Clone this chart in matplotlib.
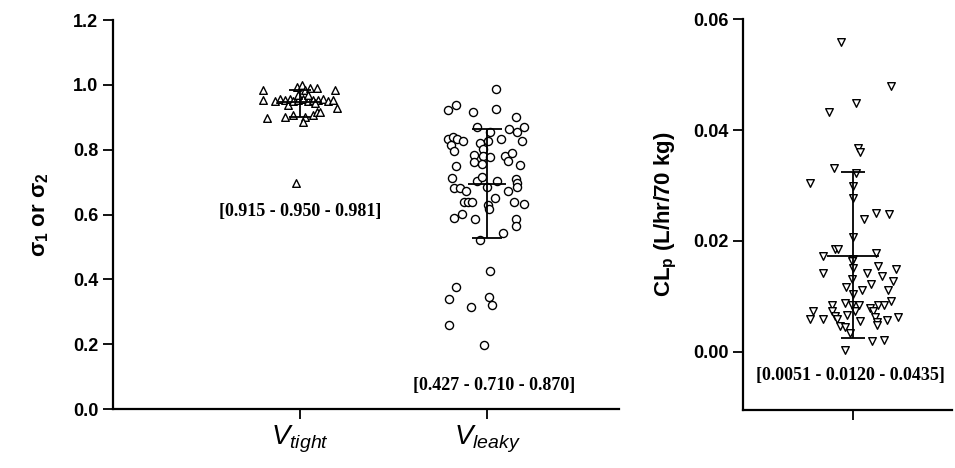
import matplotlib
matplotlib.use("Agg")
import matplotlib.pyplot as plt
import numpy as np

plt.rcParams['font.family'] = ['Liberation Sans', 'DejaVu Sans']
plt.rcParams['mathtext.fontset'] = 'custom'
plt.rcParams['mathtext.rm'] = 'Liberation Sans:bold'
plt.rcParams['mathtext.it'] = 'Liberation Sans:italic'
plt.rcParams['mathtext.bf'] = 'Liberation Sans:bold'

# ---------------- data ----------------
categories = [r'$V_{tight}$', r'$V_{leaky}$']

tight_vals = [0.985, 0.954, 0.897, 0.950, 0.958, 0.952, 0.938, 0.956, 0.949, 0.995,
              1.000, 0.985, 0.990, 0.990, 0.985, 0.953, 0.957, 0.950, 0.955, 0.952,
              0.958, 0.951, 0.954, 0.902, 0.907, 0.902, 0.887, 0.907, 0.918, 0.918,
              0.928, 0.969, 0.969, 0.944, 0.697]
tight_jit = [-0.196, -0.196, -0.178, -0.134, -0.107, -0.080, -0.062, -0.053, -0.036, -0.018,
             0.009, 0.027, 0.053, 0.089, 0.187, -0.009, 0.018, 0.045, 0.071, 0.098,
             0.125, 0.152, 0.178, -0.080, -0.036, 0.027, 0.018, 0.071, 0.089, 0.107,
             0.196, -0.009, 0.045, 0.080, -0.021]

leaky_vals = [0.988, 0.923, 0.939, 0.917, 0.927, 0.900, 0.871, 0.863, 0.855, 0.871,
              0.828, 0.833, 0.833, 0.840, 0.833, 0.826, 0.815, 0.796, 0.820, 0.828,
              0.854, 0.802, 0.784, 0.781, 0.777, 0.762, 0.756, 0.781, 0.766, 0.791,
              0.753, 0.751, 0.712, 0.683, 0.681, 0.674, 0.705, 0.717, 0.684, 0.705,
              0.674, 0.709, 0.697, 0.684, 0.638, 0.638, 0.638, 0.650, 0.630, 0.616,
              0.638, 0.633, 0.590, 0.602, 0.587, 0.587, 0.564, 0.522, 0.542, 0.426,
              0.377, 0.340, 0.316, 0.347, 0.320, 0.260, 0.199]
leaky_jit = [0.046, -0.207, -0.166, -0.077, 0.046, 0.153, -0.055, 0.119, 0.159, 0.198,
             0.185, 0.073, -0.207, -0.184, -0.162, -0.127, -0.193, -0.176, -0.037, 0.004,
             0.016, -0.023, -0.068, -0.021, 0.016, -0.070, -0.029, 0.094, 0.114, 0.134,
             0.176, -0.166, -0.189, -0.176, -0.144, -0.112, -0.055, -0.025, -0.002, 0.055,
             0.114, 0.153, 0.162, 0.162, -0.121, -0.100, -0.079, 0.043, 0.007, 0.012,
             0.144, 0.198, -0.176, -0.134, -0.064, 0.153, 0.153, -0.037, 0.084, 0.016,
             -0.166, -0.205, -0.087, 0.012, 0.025, -0.203, -0.016]

clp_vals = [0.0558, 0.0479, 0.0433, 0.0448, 0.0368, 0.0360, 0.0332, 0.0304, 0.0323, 0.0299,
            0.0278, 0.0251, 0.0248, 0.0239, 0.0207, 0.0173, 0.0185, 0.0186, 0.0167, 0.0179,
            0.0163, 0.0152, 0.0155, 0.0142, 0.0143, 0.0137, 0.0149, 0.0128, 0.0131, 0.0122,
            0.0116, 0.0111, 0.0112, 0.0104, 0.0092, 0.0085, 0.0088, 0.0085, 0.0085, 0.0079,
            0.0084, 0.0085, 0.0073, 0.0073, 0.0064, 0.0067, 0.0073, 0.0073, 0.0062, 0.0060,
            0.0060, 0.0060, 0.0055, 0.0054, 0.0058, 0.0062, 0.0046, 0.0045, 0.0049, 0.0034,
            0.0020, 0.0022, 0.0003]
clp_jit = [-0.109, 0.343, -0.215, 0.027, 0.048, 0.064, -0.173, -0.391, 0.024, 0.003,
           0.003, 0.206, 0.327, 0.100, 0.003, -0.270, -0.164, -0.133, 0.003, 0.206,
           -0.012, 0.003, 0.230, -0.270, 0.124, 0.261, 0.391, 0.367, -0.012, 0.161,
           -0.067, 0.079, 0.321, 0.003, 0.343, -0.194, -0.073, -0.012, 0.058, 0.155,
           0.230, 0.282, -0.367, -0.194, -0.164, -0.058, 0.018, 0.185, 0.200, -0.391,
           -0.270, -0.148, 0.064, 0.215, 0.312, 0.412, -0.118, -0.073, 0.215, -0.027,
           0.170, 0.285, -0.073]

# error bars: (low, centre, high)
tight_bar = (0.902, 0.948, 0.985)
leaky_bar = (0.528, 0.694, 0.864)
clp_bar = (0.0025, 0.0173, 0.0324)

tight_text = '[0.915 - 0.950 - 0.981]'
leaky_text = '[0.427 - 0.710 - 0.870]'
clp_text = '[0.0051 - 0.0120 - 0.0435]'

# ---------------- figure ----------------
fig = plt.figure(figsize=(9.55, 4.68), dpi=100)
ax1 = fig.add_axes([0.1183, 0.126, 0.530, 0.831])
ax2 = fig.add_axes([0.778, 0.124, 0.219, 0.835])

mk = dict(facecolor='white', edgecolor='black', linewidths=1.0, zorder=3)

ax1.scatter(1 + np.array(tight_jit), tight_vals, marker='^', s=30, **mk)
ax1.scatter(2 + np.array(leaky_jit), leaky_vals, marker='o', s=34, **mk)
ax2.scatter(1 + np.array(clp_jit), clp_vals, marker='v', s=30, **mk)

def errbar(ax, x, bar, cap, mid):
    lo, c, hi = bar
    ax.vlines(x, lo, hi, color='black', lw=1.3, zorder=4)
    ax.hlines([lo, hi], x - cap, x + cap, color='black', lw=1.3, zorder=4)
    ax.hlines(c, x - mid, x + mid, color='black', lw=1.3, zorder=4)

errbar(ax1, 1, tight_bar, 0.06, 0.12)
errbar(ax1, 2, leaky_bar, 0.08, 0.10)
errbar(ax2, 1, clp_bar, 0.11, 0.24)

tfont = dict(family='Liberation Serif', fontweight='bold', fontsize=13, ha='center', va='center')
ax1.text(1, 0.608, tight_text, **tfont)
ax1.text(2.04, 0.074, leaky_text, **tfont)
ax2.text(0.98, -0.0043, clp_text, **tfont)

for ax in (ax1, ax2):
    for s in ('top', 'right'):
        ax.spines[s].set_visible(False)
    for s in ('left', 'bottom'):
        ax.spines[s].set_linewidth(1.6)
    ax.tick_params(axis='both', width=1.3, length=7, direction='out')

ax1.set_xlim(0, 2.706)
ax1.set_ylim(0, 1.2)
ax1.set_yticks(np.arange(0, 1.21, 0.2))
ax1.set_yticklabels([f'{v:.1f}' for v in np.arange(0, 1.21, 0.2)], fontweight='bold', fontsize=13)
ax1.set_xticks([1, 2])
ax1.set_xticklabels(categories, fontsize=20)
ax1.set_ylabel(r'$\mathrm{\sigma_1}$ or $\mathrm{\sigma_2}$', fontsize=16, fontweight='bold', labelpad=16)

ax2.set_xlim(0, 1.9)
ax2.set_ylim(-0.0105, 0.06)
ax2.set_yticks([0, 0.02, 0.04, 0.06])
ax2.set_yticklabels(['0.00', '0.02', '0.04', '0.06'], fontweight='bold', fontsize=13)
ax2.set_xticks([1])
ax2.set_xticklabels([''])
ax2.set_ylabel(r'$\mathrm{CL_p}$ (L/hr/70 kg)', fontsize=16, fontweight='bold', labelpad=10)

fig.savefig('out.png', dpi=100)
